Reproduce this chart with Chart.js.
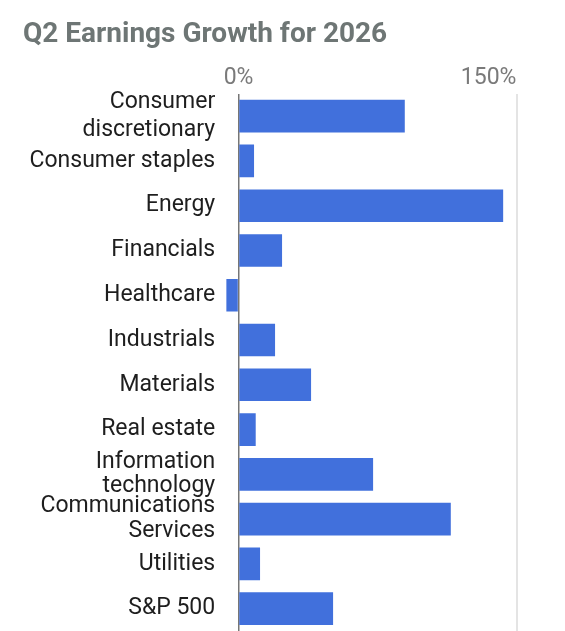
<!DOCTYPE html>
<html>
<head>
<meta charset="utf-8">
<script src="https://cdn.jsdelivr.net/npm/chart.js@4.4.1/dist/chart.umd.min.js"></script>
<style>
  html, body { margin: 0; padding: 0; background: #fff; }
  #wrap { width: 565px; height: 631px; position: relative; }
</style>
</head>
<body>
<div id="wrap"><canvas id="growth_chart"></canvas></div>
<script>
var sectors = [
    ['Consumer', 'discretionary'],
    'Consumer staples',
    'Energy',
    'Financials',
    'Healthcare',
    'Industrials',
    'Materials',
    'Real estate',
    ['Information', 'technology'],
    ['Communications', 'Services'],
    'Utilities',
    'S&P 500'
];
var growth = [99.7, 9.3, 158.7, 26.1, -7.3, 21.9, 43.5, 10.3, 80.7, 127.3, 12.9, 56.7];
var tickValues = [0, 150];
var axisMin = -8,
    axisMax = 167;

print_growth(sectors, growth);

// two-line labels sitting next to each other need a tighter line height
function label_font(ctx) {
    var i = ctx.index;
    var tight = Array.isArray(sectors[i]) &&
        (Array.isArray(sectors[i - 1]) || Array.isArray(sectors[i + 1]));
    return { family: 'Roboto', size: 23, lineHeight: tight ? 1.08 : 1.22 };
}

function print_growth(labels, data) {
    new Chart(document.getElementById("growth_chart"), {
        type: 'bar',
        data: {
            labels: labels,
            datasets: [{
                label: "Q2 growth",
                backgroundColor: "#4170dc",
                data: data,
                categoryPercentage: 1,
                barPercentage: 0.73
            }]
        },
        options: {
            indexAxis: 'y',
            responsive: true,
            maintainAspectRatio: false,
            animation: false,
            layout: { padding: { left: 23, right: 48, top: 0, bottom: 0 } },
            plugins: {
                legend: { display: false },
                tooltip: { enabled: false },
                title: {
                    display: true,
                    text: 'Q2 Earnings Growth for 2026',
                    align: 'start',
                    color: '#6e7675',
                    font: { family: 'Roboto', size: 28, weight: 'bold' },
                    padding: { top: 18, bottom: 0 }
                }
            },
            scales: {
                x: {
                    type: 'linear',
                    position: 'top',
                    min: axisMin,
                    max: axisMax,
                    afterBuildTicks: function(scale) {
                        scale.ticks = tickValues.concat([axisMax]).map(function(v) { return { value: v }; });
                    },
                    afterFit: function(scale) {
                        scale.height = 42.2;
                        scale.paddingLeft = 0;
                        scale.paddingRight = 0;
                    },
                    border: { display: false },
                    grid: {
                        drawTicks: false,
                        color: function(ctx) {
                            if (!ctx.tick) return 'rgba(0,0,0,0)';
                            if (ctx.tick.value === 0) return '#767676';
                            if (ctx.tick.value === axisMax) return '#e4e4e4';
                            return 'rgba(0,0,0,0)';
                        },
                        lineWidth: function(ctx) {
                            return ctx.tick && ctx.tick.value === axisMax ? 2 : 1.5;
                        }
                    },
                    ticks: {
                        autoSkip: false,
                        maxRotation: 0,
                        padding: 2,
                        color: '#7a7a7a',
                        font: { family: 'Roboto', size: 23 },
                        callback: function(value) {
                            return tickValues.indexOf(value) >= 0 ? value + '%' : '';
                        }
                    }
                },
                y: {
                    afterFit: function(scale) {
                        scale.width = 202.2;
                        scale.paddingTop = 0;
                        scale.paddingBottom = 0;
                    },
                    border: { display: false },
                    grid: { display: false, drawTicks: false },
                    ticks: {
                        autoSkip: false,
                        padding: 10,
                        color: '#1e1e1e',
                        font: label_font
                    }
                }
            }
        }
    });
}
</script>
</body>
</html>
